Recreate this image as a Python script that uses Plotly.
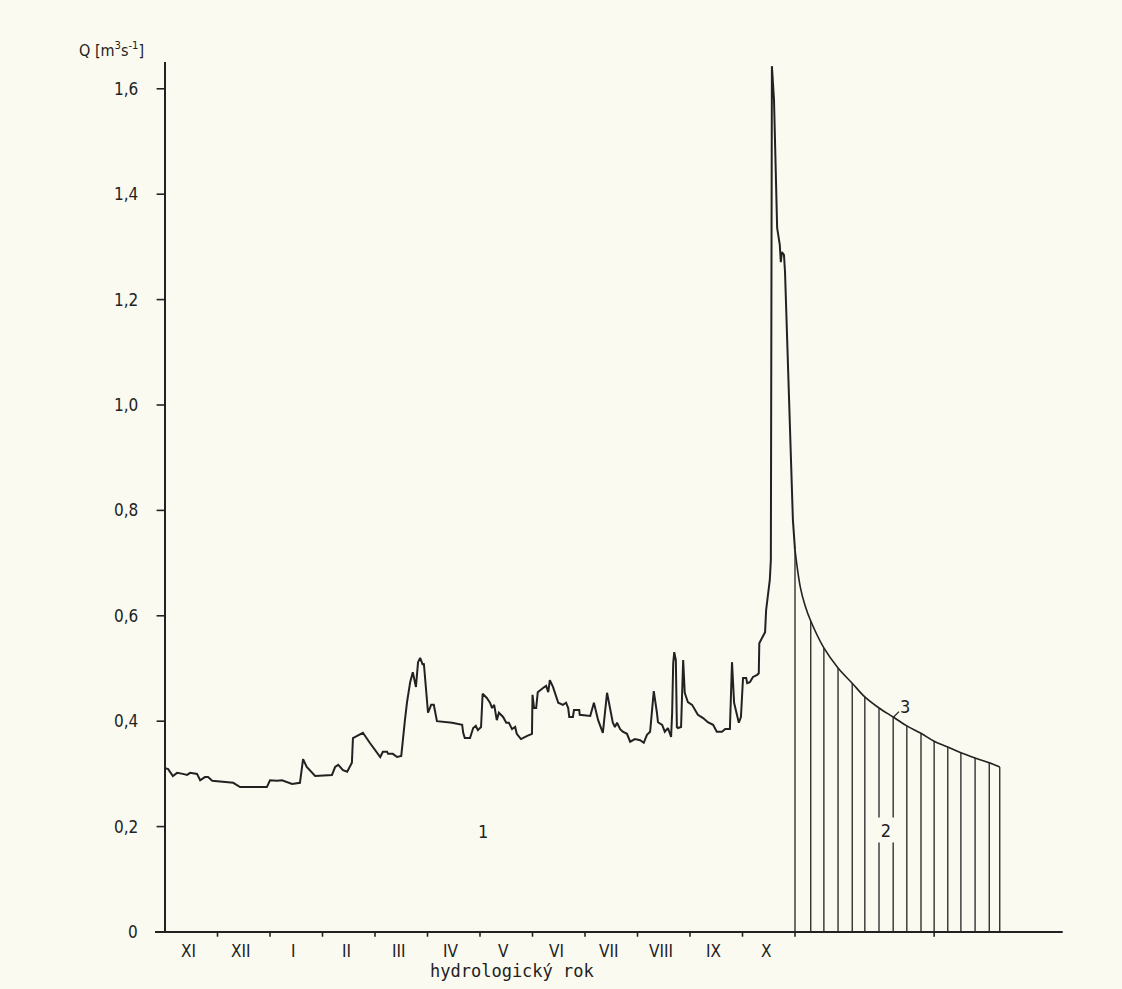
import numpy as np
import plotly.graph_objects as go

# ---- data: hydrological year (months since 1 Nov) and discharge Q [m3/s] ----
t_hydro = [0.00, 0.06, 0.15, 0.23, 0.34, 0.42, 0.48, 0.61, 0.67, 0.76, 0.82, 0.90, 1.10, 1.30, 1.43,
           1.94, 2.00, 2.13, 2.23, 2.32, 2.42, 2.57, 2.63, 2.70, 2.86, 3.18, 3.24, 3.30, 3.39, 3.47,
           3.56, 3.58, 3.77, 3.90, 4.10, 4.15, 4.23, 4.25, 4.34, 4.42, 4.50, 4.57, 4.61, 4.67, 4.72,
           4.78, 4.82, 4.86, 4.91, 4.93, 5.01, 5.07, 5.12, 5.18, 5.47, 5.66, 5.68, 5.71, 5.81, 5.87,
           5.92, 5.96, 6.02, 6.05, 6.13, 6.19, 6.23, 6.27, 6.32, 6.36, 6.44, 6.50, 6.55, 6.61, 6.67,
           6.70, 6.78, 6.90, 6.99, 7.00, 7.03, 7.07, 7.10, 7.20, 7.26, 7.30, 7.33, 7.39, 7.43, 7.49,
           7.58, 7.64, 7.68, 7.70, 7.77, 7.79, 7.89, 7.90, 8.10, 8.17, 8.25, 8.34, 8.42, 8.48, 8.53,
           8.57, 8.61, 8.67, 8.72, 8.80, 8.86, 8.95, 9.05, 9.12, 9.18, 9.24, 9.31, 9.37, 9.39, 9.47,
           9.52, 9.58, 9.64, 9.66, 9.68, 9.70, 9.73, 9.75, 9.77, 9.83, 9.87, 9.90, 9.96, 10.04, 10.10,
           10.15, 10.25, 10.34, 10.44, 10.51, 10.61, 10.67, 10.76, 10.80, 10.84, 10.90, 10.93, 10.97,
           10.99, 11.01, 11.07, 11.09, 11.14, 11.20, 11.28, 11.31, 11.32, 11.43, 11.45, 11.49, 11.52,
           11.54, 11.56, 11.60, 11.64, 11.66, 11.71, 11.73, 11.75, 11.79, 11.81, 11.92, 11.96, 12.00]
q_hydro = [0.311, 0.309, 0.296, 0.302, 0.300, 0.298, 0.302, 0.300, 0.288, 0.294, 0.294, 0.287, 0.285, 0.283, 0.275,
           0.275, 0.288, 0.287, 0.288, 0.285, 0.281, 0.283, 0.328, 0.313, 0.296, 0.298, 0.313, 0.317, 0.307, 0.304,
           0.321, 0.368, 0.378, 0.359, 0.332, 0.342, 0.342, 0.338, 0.338, 0.332, 0.334, 0.402, 0.436, 0.474, 0.493,
           0.465, 0.512, 0.520, 0.507, 0.510, 0.416, 0.431, 0.431, 0.400, 0.397, 0.393, 0.378, 0.368, 0.368, 0.387,
           0.391, 0.383, 0.389, 0.452, 0.444, 0.435, 0.425, 0.431, 0.402, 0.416, 0.408, 0.397, 0.397, 0.385, 0.389,
           0.376, 0.366, 0.372, 0.376, 0.450, 0.425, 0.425, 0.455, 0.463, 0.467, 0.455, 0.478, 0.465, 0.454, 0.435,
           0.431, 0.435, 0.425, 0.408, 0.408, 0.421, 0.421, 0.412, 0.410, 0.435, 0.402, 0.378, 0.454, 0.419, 0.397,
           0.389, 0.397, 0.385, 0.380, 0.376, 0.361, 0.366, 0.364, 0.359, 0.374, 0.380, 0.457, 0.416, 0.398, 0.393,
           0.380, 0.387, 0.370, 0.416, 0.510, 0.531, 0.516, 0.389, 0.387, 0.389, 0.516, 0.454, 0.436, 0.431, 0.421,
           0.412, 0.406, 0.398, 0.393, 0.380, 0.380, 0.385, 0.385, 0.512, 0.435, 0.408, 0.397,
           0.408, 0.440, 0.482, 0.482, 0.472, 0.474, 0.484, 0.488, 0.491, 0.548, 0.569, 0.611, 0.639, 0.668,
           0.706, 1.643, 1.579, 1.389, 1.336, 1.304, 1.271, 1.290, 1.285, 1.252, 0.877, 0.782, 0.725]

# recession curve (3)
t_recess = [12.00, 12.10, 12.19, 12.30, 12.55, 12.82, 13.09, 13.33, 13.60, 13.87, 14.13, 14.40,
            14.65, 14.91, 15.16, 15.43, 15.70, 15.90]
q_recess = [0.725, 0.655, 0.620, 0.590, 0.539, 0.501, 0.472, 0.446, 0.425, 0.408, 0.391, 0.377,
            0.362, 0.351, 0.340, 0.330, 0.321, 0.313]

# hatching of area (2)
t_hatch = [12.00, 12.30, 12.55, 12.82, 13.09, 13.33, 13.60, 13.87, 14.13, 14.40, 14.65, 14.91,
           15.16, 15.43, 15.70, 15.90]

months = ["XI", "XII", "I", "II", "III", "IV", "V", "VI", "VII", "VIII", "IX", "X"]
y_ticks = [0.0, 0.2, 0.4, 0.6, 0.8, 1.0, 1.2, 1.4, 1.6]
y_tick_text = ["0", "0,2", "0,4", "0,6", "0,8", "1,0", "1,2", "1,4", "1,6"]
x_extra_ticks = [14.65]

INK = "#222222"
PAPER = "#fafaf1"
FONT = "Liberation Sans Narrow, DejaVu Sans Condensed, DejaVu Sans, sans-serif"

fig = go.Figure()

# hatch lines
hx, hy = [], []
h_top = np.interp(t_hatch, t_recess, q_recess)
for t, q in zip(t_hatch, h_top):
    hx += [t, t, None]
    hy += [0, q, None]
fig.add_trace(go.Scatter(x=hx, y=hy, mode="lines", line=dict(color=INK, width=1.3),
                         hoverinfo="skip", showlegend=False))

fig.add_trace(go.Scatter(x=t_hydro, y=q_hydro, mode="lines", line=dict(color=INK, width=2.0),
                         showlegend=False))
fig.add_trace(go.Scatter(x=t_recess, y=q_recess, mode="lines", line=dict(color=INK, width=1.6,
                         shape="spline"), showlegend=False))

shapes = []
# axes
shapes.append(dict(type="line", xref="x", yref="y", x0=0, x1=0, y0=0, y1=1.651,
                   line=dict(color=INK, width=2)))
shapes.append(dict(type="line", xref="x", yref="y", x0=-0.19, x1=17.1, y0=0, y1=0,
                   line=dict(color=INK, width=2)))
for yv in y_ticks[1:]:
    shapes.append(dict(type="line", xref="x", yref="y", x0=-0.16, x1=0, y0=yv, y1=yv,
                       line=dict(color=INK, width=1.6)))
for k in list(range(1, 13)) + x_extra_ticks:
    shapes.append(dict(type="line", xref="x", yref="y", x0=k, x1=k, y0=0, y1=-0.009,
                       line=dict(color=INK, width=1.6)))
# leader for label 3
shapes.append(dict(type="line", xref="x", yref="y", x0=13.88, x1=13.98, y0=0.408, y1=0.418,
                   line=dict(color=INK, width=1.2)))

ann = []
for yv, tx in zip(y_ticks, y_tick_text):
    ann.append(dict(x=-0.48, y=yv, text=tx, xanchor="right", yanchor="middle", showarrow=False,
                    font=dict(size=17, color=INK, family=FONT)))
for i, m in enumerate(months):
    ann.append(dict(x=i + 0.45, y=-0.036, text=m, xanchor="center", yanchor="middle", showarrow=False,
                    font=dict(size=17, color=INK, family=FONT)))
ann.append(dict(x=6.6, y=-0.074, text="hydrologický rok", xanchor="center", yanchor="middle",
                showarrow=False, font=dict(size=17, color=INK, family="DejaVu Sans Mono, monospace")))
ann.append(dict(x=-1.68, y=1.674, text="Q [m<sup>3</sup>s<sup>-1</sup>]", xanchor="left",
                yanchor="middle", showarrow=False, font=dict(size=16, color=INK, family=FONT)))
ann.append(dict(x=6.06, y=0.190, text="1", showarrow=False, xanchor="center", yanchor="middle",
                font=dict(size=18, color=INK, family=FONT)))
ann.append(dict(x=13.73, y=0.194, text="2", showarrow=False, xanchor="center", yanchor="middle",
                bgcolor=PAPER, width=16, height=22,
                font=dict(size=18, color=INK, family=FONT)))
ann.append(dict(x=14.10, y=0.427, text="3", showarrow=False, xanchor="center", yanchor="middle",
                font=dict(size=18, color=INK, family=FONT)))

fig.update_layout(
    width=1122, height=989,
    margin=dict(l=60, r=12, t=10, b=5),
    paper_bgcolor=PAPER, plot_bgcolor=PAPER,
    xaxis=dict(range=[-2.0, 18.0], visible=False, fixedrange=True),
    yaxis=dict(range=[-0.0987, 1.7495], visible=False, fixedrange=True),
    shapes=shapes, annotations=ann, showlegend=False,
)

fig.write_html("out.html", config={"displayModeBar": False},
               post_script="document.body.style.margin='0';document.body.style.overflow='hidden';")
